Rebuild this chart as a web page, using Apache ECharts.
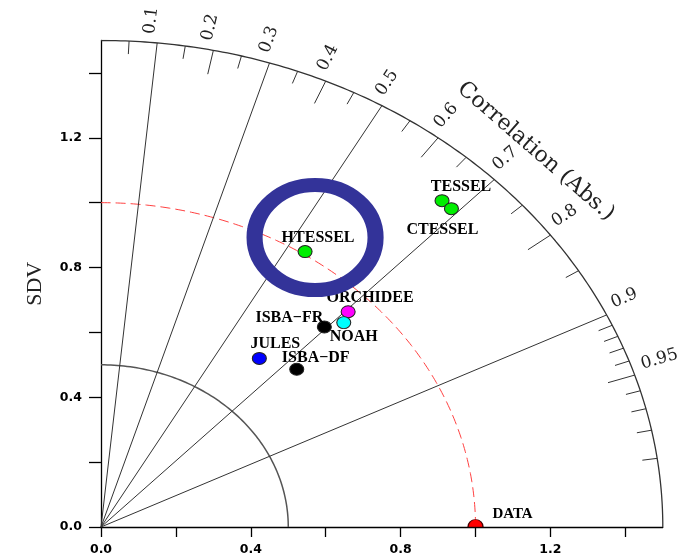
<!DOCTYPE html>
<html>
<head>
<meta charset="utf-8">
<script src="https://cdn.jsdelivr.net/npm/echarts@6/dist/echarts.min.js"></script>
<style>
  html, body { margin: 0; padding: 0; background: #fff; }
  #chart { width: 684px; height: 556px; }
</style>
</head>
<body>
<div id="chart"></div>
<script>
// Taylor diagram: standard deviation (radius) and correlation (angle) of each model
const models = ['TESSEL', 'CTESSEL', 'HTESSEL', 'ORCHIDEE', 'NOAH', 'ISBA\u2212FR', 'JULES', 'ISBA\u2212DF'];
const modelSdv = [1.357, 1.356, 1.009, 0.936, 0.904, 0.858, 0.670, 0.714];
const modelCorr = [0.671, 0.690, 0.540, 0.705, 0.717, 0.695, 0.631, 0.732];

// Reference (observations)
const refName = 'DATA';
const refSdv = 1.0;
const refCorr = 1.0;

// Axis ticks and labels
const sdvTicks = [0, 0.2, 0.4, 0.6, 0.8, 1.0, 1.2, 1.4];
const sdvLabels = [0, 0.4, 0.8, 1.2];
const corrLabels = ['0.1', '0.2', '0.3', '0.4', '0.5', '0.6', '0.7', '0.8', '0.9', '0.95'];
const corrLines = [0.1, 0.3, 0.5, 0.7, 0.9];
const corrMajorTicks = [0.2, 0.4, 0.6, 0.8, 0.95];
const corrMinorTicks = [0.05, 0.15, 0.25, 0.35, 0.45, 0.55, 0.65, 0.75, 0.85,
                        0.91, 0.92, 0.93, 0.94, 0.96, 0.97, 0.98, 0.99];

// Styling per model
const modelColors = ['#00ee00', '#00ee00', '#00ee00', '#ff00ff', '#00ffff', '#000000', '#0000ff', '#000000'];
const labelOffsets = [[19, -14], [-9, 21], [13, -14], [22, -14], [10, 14], [-35, -9], [16, -15], [19, -11]];

const SD_MAX = 1.5;

function toXY(sd, r) {
  return [sd * r, sd * Math.sqrt(Math.max(0, 1 - r * r))];
}
function arc(radius) {
  const pts = [];
  for (let i = 0; i <= 180; i++) {
    const t = (i / 180) * Math.PI / 2;
    pts.push([radius * Math.cos(t), radius * Math.sin(t)]);
  }
  return pts;
}

const serif = '"DejaVu Serif", "Liberation Serif", serif';
const labelFont = '"Liberation Serif", "DejaVu Serif", serif';

// radial spokes and tick marks: [correlation, kind] 0 = full line, 1 = major tick, 2 = minor tick
const spokeData = []
  .concat(corrLines.map(r => [r, 0]))
  .concat(corrMajorTicks.map(r => [r, 1]))
  .concat(corrMinorTicks.map(r => [r, 2]));

const chart = echarts.init(document.getElementById('chart'));

const option = {
  backgroundColor: '#ffffff',
  animation: false,
  grid: { left: 101, top: 40.5, width: 561.8, height: 487.5, containLabel: false },
  xAxis: {
    type: 'value', min: 0, max: SD_MAX,
    splitLine: { show: false },
    axisLine: { onZero: false, lineStyle: { color: '#000', width: 1.3 } },
    axisTick: { customValues: sdvTicks, length: 10, lineStyle: { color: '#000', width: 1.3 } },
    axisLabel: {
      customValues: sdvLabels, formatter: v => Number(v).toFixed(1),
      margin: 16, color: '#000', fontFamily: 'DejaVu Sans', fontWeight: 'bold', fontSize: 12.5
    }
  },
  yAxis: {
    type: 'value', min: 0, max: SD_MAX,
    name: 'SDV', nameLocation: 'middle', nameRotate: 90, nameGap: 55,
    nameTextStyle: { fontFamily: labelFont, fontSize: 22, color: '#222' },
    splitLine: { show: false },
    axisLine: { onZero: false, lineStyle: { color: '#000', width: 1.3 } },
    axisTick: { customValues: sdvTicks, length: 12, lineStyle: { color: '#000', width: 1.3 } },
    axisLabel: {
      customValues: sdvLabels, formatter: v => Number(v).toFixed(1),
      margin: 19, color: '#000', fontFamily: 'DejaVu Sans', fontWeight: 'bold', fontSize: 12.5
    }
  },
  series: [
    {
      type: 'line', data: arc(0.5), symbol: 'none', silent: true, z: 1,
      lineStyle: { color: '#555', width: 1.5 }
    },
    {
      type: 'line', data: arc(SD_MAX), symbol: 'none', silent: true, z: 1,
      lineStyle: { color: '#333', width: 1.3 }
    },
    {
      type: 'line', data: arc(refSdv), symbol: 'none', silent: true, z: 1,
      lineStyle: { color: '#ff4040', width: 1, type: [10, 5] }
    },
    {
      type: 'custom', coordinateSystem: 'cartesian2d', silent: true, z: 2,
      data: spokeData,
      renderItem(params, api) {
        const r = api.value(0), kind = api.value(1);
        const rIn = kind === 0 ? 0 : (kind === 1 ? SD_MAX - 0.075 : SD_MAX - 0.04);
        const a = api.coord(toXY(rIn, r));
        const b = api.coord(toXY(SD_MAX, r));
        return {
          type: 'line',
          shape: { x1: a[0], y1: a[1], x2: b[0], y2: b[1] },
          style: { stroke: '#333', lineWidth: 1 }
        };
      }
    },
    {
      type: 'custom', coordinateSystem: 'cartesian2d', silent: true, z: 2,
      data: corrLabels.map(s => [Number(s), 0]),
      renderItem(params, api) {
        const r = api.value(0);
        const o = api.coord([0, 0]);
        const p = api.coord(toXY(SD_MAX + 0.025, r));
        const ang = Math.atan2(o[1] - p[1], p[0] - o[0]);
        return {
          type: 'text', x: p[0], y: p[1], rotation: ang,
          style: {
            text: corrLabels[params.dataIndex], font: '17px ' + serif,
            fill: '#222', align: 'left', verticalAlign: 'bottom'
          }
        };
      }
    },
    {
      type: 'custom', coordinateSystem: 'cartesian2d', silent: true, z: 2,
      data: [[0.708, 1.64]],
      renderItem(params, api) {
        const r = api.value(0), rad = api.value(1);
        const th = Math.acos(r);
        const c = api.coord([rad * Math.cos(th), rad * Math.sin(th)]);
        const p1 = api.coord([rad * Math.cos(th + 0.01), rad * Math.sin(th + 0.01)]);
        const p2 = api.coord([rad * Math.cos(th - 0.01), rad * Math.sin(th - 0.01)]);
        const ang = Math.atan2(-(p2[1] - p1[1]), p2[0] - p1[0]);
        return {
          type: 'text', x: c[0], y: c[1], rotation: ang,
          style: {
            text: 'Correlation (Abs.)', font: '22px ' + serif,
            fill: '#222', align: 'center', verticalAlign: 'middle'
          }
        };
      }
    },
    {
      type: 'scatter', z: 5, silent: true,
      symbol: 'circle', symbolSize: [14, 12],
      itemStyle: { borderColor: '#222', borderWidth: 1, opacity: 1 },
      label: {
        show: true, position: 'inside', formatter: '{b}',
        color: '#000', fontFamily: labelFont, fontWeight: 'bold', fontSize: 16
      },
      data: models.map((n, i) => ({
        name: n,
        value: toXY(modelSdv[i], modelCorr[i]),
        itemStyle: { color: modelColors[i], opacity: 1 },
        label: { offset: labelOffsets[i] }
      }))
    },
    {
      // reference point, drawn as a half disc resting on the axis
      type: 'scatter', z: 5, silent: true,
      symbol: 'path://M0,10 C0,4.5 4.5,0 10,0 C15.5,0 20,4.5 20,10 Z',
      symbolKeepAspect: false,
      symbolSize: [15, 7.5], symbolOffset: [0, -3.75],
      itemStyle: { color: '#ff0000', borderColor: '#400', borderWidth: 1, opacity: 1 },
      label: {
        show: true, position: 'inside', formatter: '{b}', offset: [37, -9],
        color: '#000', fontFamily: labelFont, fontWeight: 'bold', fontSize: 15
      },
      data: [{ name: refName, value: toXY(refSdv, refCorr) }]
    },
    {
      // highlight ring around HTESSEL
      type: 'scatter', z: 10, silent: true,
      symbol: 'circle', symbolSize: [121, 105], symbolOffset: [10, -14],
      itemStyle: { color: 'rgba(0,0,0,0)', borderColor: '#333399', borderWidth: 15, opacity: 1 },
      data: [toXY(modelSdv[2], modelCorr[2])]
    }
  ]
};

chart.setOption(option);
</script>
</body>
</html>
